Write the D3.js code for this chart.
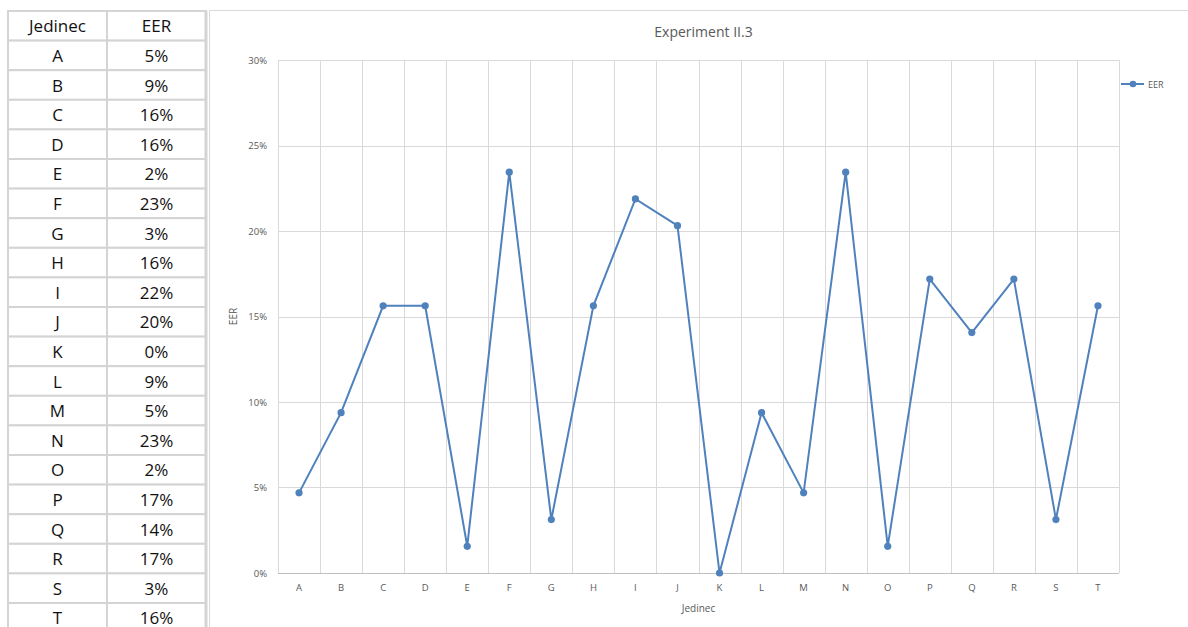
<!DOCTYPE html>
<html><head><meta charset="utf-8">
<script src="https://cdn.jsdelivr.net/npm/d3@7"></script>
<style>
html,body{margin:0;padding:0;background:#fff;}
svg{display:block;}
</style></head>
<body>
<svg id="c" width="1188" height="627"></svg>
<script>
const categories = ["A","B","C","D","E","F","G","H","I","J","K","L","M","N","O","P","Q","R","S","T"];
const eer = [0.046875,0.09375,0.15625,0.15625,0.015625,0.234375,0.03125,0.15625,0.21875,0.203125,0,0.09375,0.046875,0.234375,0.015625,0.171875,0.140625,0.171875,0.03125,0.15625];
const yTicks = [0,0.05,0.10,0.15,0.20,0.25,0.30];
const tableHeader = ["Jedinec","EER"];
const title = "Experiment II.3";
const seriesName = "EER";

const svg = d3.select("#c");
const pct = d3.format(".0%");

// ---- Table ----
const tX = 8, tW1 = 99, tW2 = 99, rowH = 29.6, tY = 11;
const tg = svg.append("g");
const rows = [tableHeader].concat(categories.map((c,i)=>[c, pct(eer[i])]));
rows.forEach((r,i)=>{
  const y = tY + i*rowH;
  [[tX,tW1],[tX+tW1,tW2]].forEach(([x,w],j)=>{
    tg.append("rect").attr("x",x).attr("y",y).attr("width",w).attr("height",rowH)
      .attr("fill","#fff").attr("stroke","#d4d4d4").attr("stroke-width",2);
    tg.append("text").attr("x",x+w/2).attr("y",y+rowH/2+6.5)
      .attr("text-anchor","middle").attr("font-family","'Open Sans',sans-serif")
      .attr("font-size",17).attr("fill","#111").text(r[j]);
  });
});
tg.append("line").attr("x1",206).attr("x2",206).attr("y1",tY).attr("y2",627).attr("stroke","#d4d4d4").attr("stroke-width",3);

// ---- Chart area border ----
svg.append("path").attr("d","M209.5,627 V10.5 H1188").attr("fill","none").attr("stroke","#d9d9d9").attr("stroke-width",1);

const ml = 278, mr = 1119, mt = 60, mb = 573;
const x = d3.scaleBand().domain(categories).range([ml,mr]);
const y = d3.scaleLinear().domain([0,0.30]).range([mb,mt]);

const font = "'Open Sans',sans-serif";
const grey = "#595959";

// gridlines horizontal
svg.append("g").selectAll("line").data(yTicks.filter(d=>d>0)).join("line")
  .attr("x1",ml).attr("x2",mr).attr("y1",d=>Math.round(y(d))+0.5).attr("y2",d=>Math.round(y(d))+0.5)
  .attr("stroke","#d9d9d9");
// gridlines vertical
const bounds = categories.map(c=>x(c)).concat([mr]);
svg.append("g").selectAll("line").data(bounds).join("line")
  .attr("x1",d=>Math.round(d)+0.5).attr("x2",d=>Math.round(d)+0.5).attr("y1",mt).attr("y2",mb)
  .attr("stroke","#d9d9d9");
// x axis line
svg.append("line").attr("x1",ml).attr("x2",mr).attr("y1",Math.round(mb)+0.5).attr("y2",Math.round(mb)+0.5)
  .attr("stroke","#bfbfbf");

// y axis
const yAxis = d3.axisLeft(y).tickValues(yTicks).tickFormat(d3.format(".0%")).tickSize(0).tickPadding(11);
const ya = svg.append("g").attr("transform",`translate(${ml},0)`).call(yAxis);
ya.select(".domain").remove();
ya.selectAll("text").attr("font-family",font).attr("font-size",9.5).attr("fill",grey);

// x axis
const xAxis = d3.axisBottom(x).tickSize(0).tickPadding(11);
const xa = svg.append("g").attr("transform",`translate(0,${mb})`).call(xAxis);
xa.select(".domain").remove();
xa.selectAll("text").attr("font-family",font).attr("font-size",9.5).attr("fill",grey);

// titles
svg.append("text").attr("x",(ml+mr)/2+5).attr("y",37).attr("text-anchor","middle")
  .attr("font-family",font).attr("font-size",14).attr("fill",grey).text(title);
svg.append("text").attr("x",(ml+mr)/2).attr("y",612).attr("text-anchor","middle")
  .attr("font-family",font).attr("font-size",10).attr("fill",grey).text("Jedinec");
svg.append("text").attr("transform",`translate(237,${(mt+mb)/2}) rotate(-90)`).attr("text-anchor","middle")
  .attr("font-family",font).attr("font-size",10).attr("fill",grey).text("EER");

// line
const blue = "#4f81bd";
const pts = categories.map((c,i)=>[x(c)+x.bandwidth()/2, y(eer[i])]);
svg.append("path").attr("d",d3.line()(pts)).attr("fill","none").attr("stroke",blue).attr("stroke-width",2);
svg.append("g").selectAll("circle").data(pts).join("circle")
  .attr("cx",d=>d[0]).attr("cy",d=>d[1]).attr("r",3.6).attr("fill",blue);

// legend
svg.append("line").attr("x1",1121).attr("x2",1144).attr("y1",84).attr("y2",84).attr("stroke",blue).attr("stroke-width",2);
svg.append("circle").attr("cx",1133).attr("cy",84).attr("r",3.3).attr("fill",blue);
svg.append("text").attr("x",1148).attr("y",87.5).attr("font-family",font).attr("font-size",9)
  .attr("fill",grey).text(seriesName);
</script>
</body></html>
